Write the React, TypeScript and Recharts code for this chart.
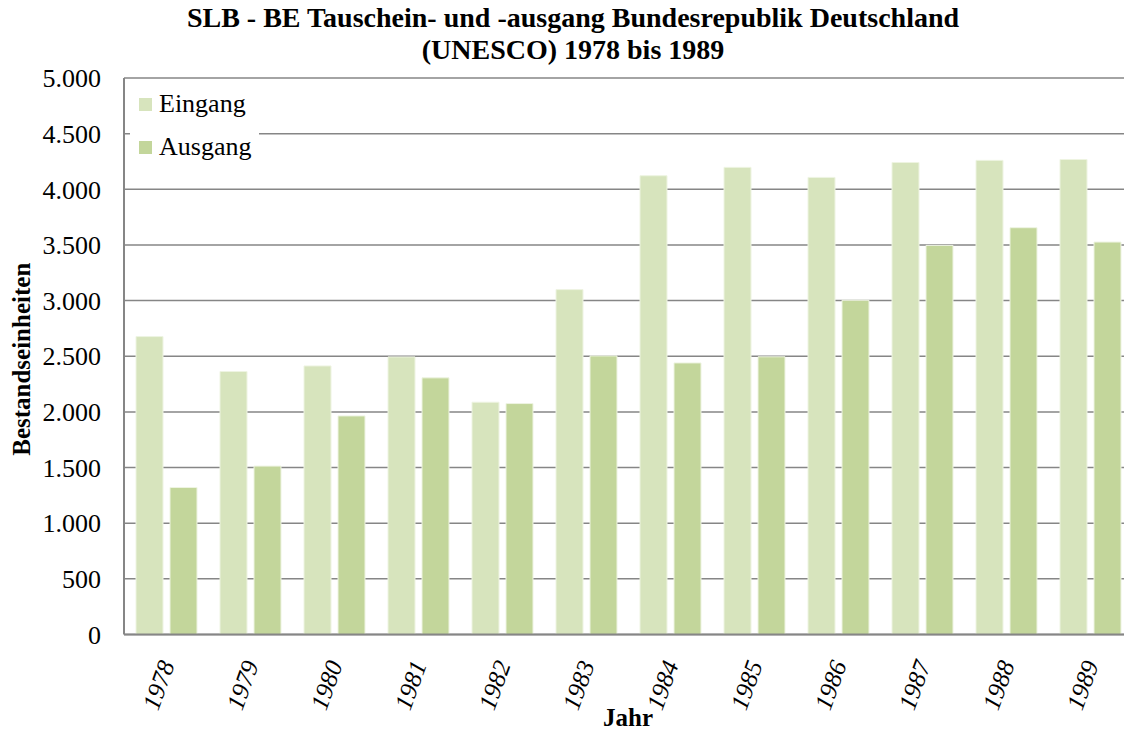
import React from 'react';
import {
  BarChart,
  Bar,
  XAxis,
  YAxis,
  CartesianGrid,
} from 'recharts';

const years = ['1978', '1979', '1980', '1981', '1982', '1983', '1984', '1985', '1986', '1987', '1988', '1989'];
const eingang = [2677, 2363, 2413, 2494, 2087, 3099, 4122, 4197, 4107, 4241, 4260, 4268];
const ausgang = [1321, 1513, 1964, 2306, 2075, 2503, 2440, 2495, 3003, 3496, 3655, 3526];
const yTicks = [0, 500, 1000, 1500, 2000, 2500, 3000, 3500, 4000, 4500, 5000];
const seriesNames = ['Eingang', 'Ausgang'];
const titleLines = ['SLB - BE Tauschein- und -ausgang Bundesrepublik Deutschland', '(UNESCO) 1978 bis 1989'];

const data = years.map((year, i) => ({ year, Eingang: eingang[i], Ausgang: ausgang[i] }));

const FONT = '"Liberation Serif", "Times New Roman", serif';
const GRID = '#868686';
const LIGHT = '#D7E4BD';
const DARK = '#C3D69B';
const COLORS = [LIGHT, DARK];

const formatDe = (v: number) => String(v).replace(/\B(?=(\d{3})+(?!\d))/g, '.');

const YearTick = ({ x, y, payload }: any) => {
  const ax = x + 9;
  const ay = y + 30;
  return (
    <text
      x={ax}
      y={ay}
      transform={`rotate(-70, ${ax}, ${ay})`}
      textAnchor="end"
      fontFamily={FONT}
      fontStyle="italic"
      fontSize={25}
      fill="#000"
    >
      {payload.value}
    </text>
  );
};

const YTitle = ({ viewBox }: any) => {
  const cx = 30;
  const cy = viewBox.y + viewBox.height / 2 + 3;
  return (
    <text
      x={cx}
      y={cy}
      transform={`rotate(-90, ${cx}, ${cy})`}
      textAnchor="middle"
      fontFamily={FONT}
      fontWeight="bold"
      fontSize={25}
      fill="#000"
    >
      Bestandseinheiten
    </text>
  );
};

const XTitle = ({ viewBox }: any) => (
  <text
    x={viewBox.x + viewBox.width / 2}
    y={726}
    textAnchor="middle"
    fontFamily={FONT}
    fontWeight="bold"
    fontSize={25}
    fill="#000"
  >
    Jahr
  </text>
);

// legend box sits over the grid, top left of the plot
const LegendBox = () => (
  <div
    style={{
      position: 'absolute',
      left: 130,
      top: 86,
      width: 129,
      height: 78,
      background: '#fff',
      fontFamily: FONT,
      fontSize: 26,
      zIndex: 2,
    }}
  >
    {seriesNames.map((name, i) => (
      <div
        key={name}
        style={{ position: 'absolute', left: 9, top: 3 + i * 43, height: 30, display: 'flex', alignItems: 'center' }}
      >
        <span style={{ display: 'inline-block', width: 13, height: 13, background: COLORS[i], marginRight: 7 }} />
        <span style={{ lineHeight: '30px', color: '#000' }}>{name}</span>
      </div>
    ))}
  </div>
);

export default function App() {
  return (
    <div style={{ position: 'relative', width: 1124, height: 733, overflow: 'hidden', background: '#fff' }}>
      <style>{'body{margin:0}'}</style>
      <svg width={1124} height={66} style={{ position: 'absolute', top: 0, left: 0, zIndex: 2 }}>
        {titleLines.map((line, i) => (
          <text
            key={line}
            x={573}
            y={26.5 + i * 32}
            textAnchor="middle"
            fontFamily={FONT}
            fontWeight="bold"
            fontSize={28}
            fill="#000"
          >
            {line}
          </text>
        ))}
      </svg>
      <div style={{ position: 'absolute', top: 0, left: 0 }}>
        <BarChart
          width={1132}
          height={733}
          data={data}
          margin={{ top: 78, right: 0, bottom: 0, left: 0 }}
          barSize={27}
          barGap={7}
        >
          <CartesianGrid vertical={false} stroke={GRID} strokeWidth={1.5} />
          <XAxis
            dataKey="year"
            height={98.5}
            axisLine={{ stroke: GRID, strokeWidth: 2 }}
            tickLine={false}
            tickSize={0}
            tickMargin={0}
            interval={0}
            tick={<YearTick />}
            label={<XTitle />}
          />
          <YAxis
            width={124}
            domain={[0, 5000]}
            ticks={yTicks}
            interval={0}
            axisLine={{ stroke: GRID, strokeWidth: 2 }}
            tickLine={false}
            tickSize={0}
            tickMargin={23}
            tickFormatter={formatDe}
            tick={{ fontFamily: FONT, fontSize: 26, fill: '#000' }}
            label={<YTitle />}
          />
          <Bar dataKey="Eingang" fill={LIGHT} stroke="#EEF4E2" strokeWidth={1} isAnimationActive={false} />
          <Bar dataKey="Ausgang" fill={DARK} stroke="#EEF4E2" strokeWidth={1} isAnimationActive={false} />
        </BarChart>
      </div>
      <LegendBox />
    </div>
  );
}
